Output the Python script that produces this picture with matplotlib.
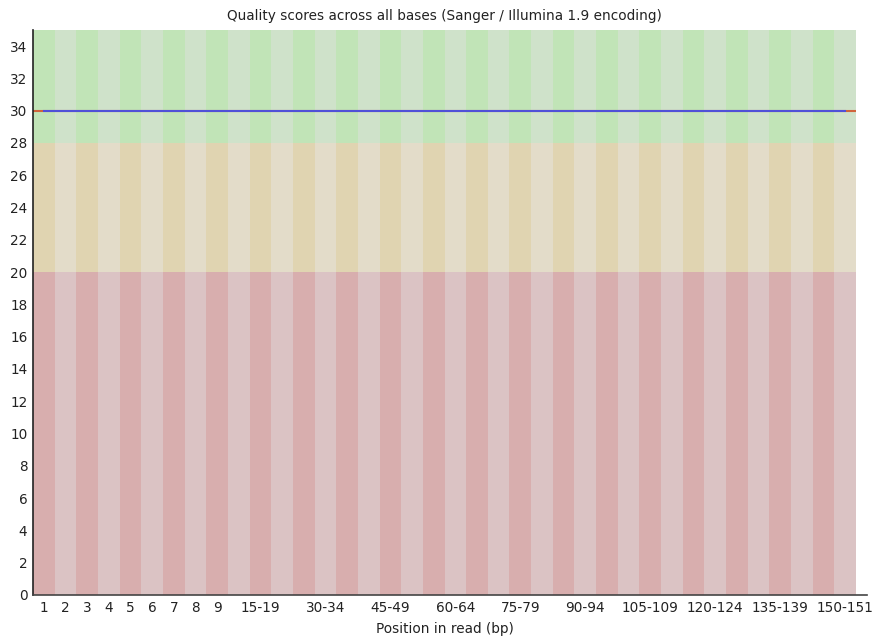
import matplotlib
matplotlib.use("Agg")
import matplotlib.pyplot as plt
from matplotlib.patches import Rectangle

# positions in read (FastQC grouping)
positions = [str(i) for i in range(1, 10)] + \
    ["%d-%d" % (s, s + 4) for s in range(10, 150, 5)] + ["150-151"]
mean_q = [30.0] * len(positions)
median_q = [30.0] * len(positions)
shown_labels = [str(i) for i in range(1, 10)] + \
    ["15-19", "30-34", "45-49", "60-64", "75-79", "90-94",
     "105-109", "120-124", "135-139", "150-151"]

# quality bands (low, high) and stripe colours (dark, light)
bands = [(0, 20), (20, 28), (28, 35)]
band_colors = [("#d8aeae", "#dbc3c4"),
               ("#e0d4b1", "#e3dcc9"),
               ("#c1e4b7", "#cfe2ca")]

fig = plt.figure(figsize=(8.74, 6.38), dpi=100)
ax = fig.add_axes([33 / 874, 1 - 595 / 638, (856 - 33) / 874, (595 - 30) / 638])

n = len(positions)
for i in range(n):
    for (lo, hi), (dark, light) in zip(bands, band_colors):
        ax.add_patch(Rectangle((i - 0.5, lo), 1, hi - lo,
                               facecolor=dark if i % 2 == 0 else light,
                               edgecolor="none", zorder=0))

# median as short red segments per column, mean as blue line through centres
for i, m in enumerate(median_q):
    ax.plot([i - 0.5, i + 0.5], [m, m], color="#d0643c", lw=1.5, zorder=2,
            solid_capstyle="butt")
ax.plot(range(n), mean_q, color="#5050d8", lw=1.5, zorder=3)

ax.set_xlim(-0.5, n - 0.5)
ax.set_ylim(0, 35)
ax.set_yticks(range(0, 35, 2))
ticks = [positions.index(l) for l in shown_labels]
ax.set_xticks(ticks)
ax.set_xticklabels(shown_labels)
ax.tick_params(length=0, labelsize=9.8, colors="#222222", pad=4)
ax.tick_params(axis="y", pad=4)

for s in ["top", "right", "bottom"]:
    ax.spines[s].set_visible(False)
ax.spines["left"].set_color("#222222")
ax.spines["left"].set_linewidth(1.2)
ax.plot([-0.5, n], [0, 0], color="#444444", lw=1.2, clip_on=False, zorder=5)

ax.set_title("Quality scores across all bases (Sanger / Illumina 1.9 encoding)",
             fontsize=9.8, color="#222222", pad=7)
ax.set_xlabel("Position in read (bp)", fontsize=9.8, color="#222222", labelpad=5)

fig.savefig("out.png", dpi=100)
